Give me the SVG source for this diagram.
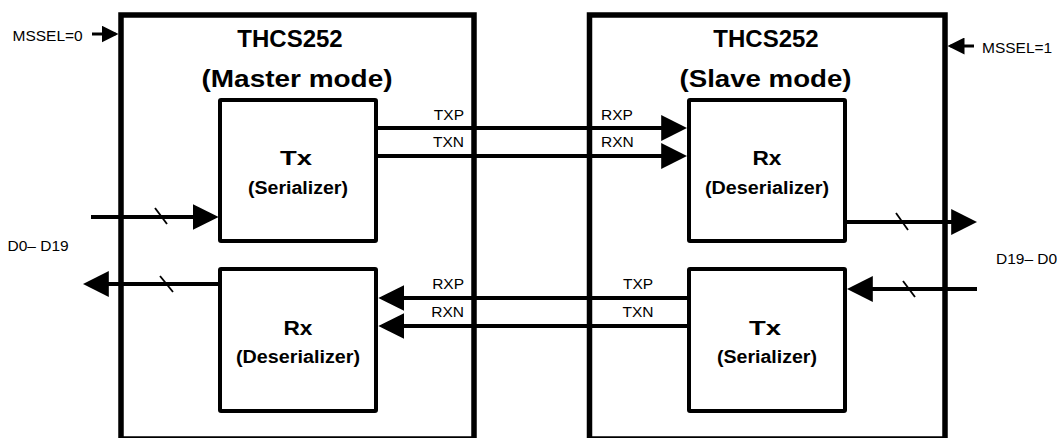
<svg xmlns="http://www.w3.org/2000/svg" width="1057" height="438" viewBox="0 0 1057 438">
<style>
.outer{fill:none;stroke:#000;stroke-width:5.5}
.inner{fill:#fff;stroke:#000;stroke-width:4}
.ln{fill:none;stroke:#000;stroke-width:4}
.tick{fill:none;stroke:#000;stroke-width:1.8}
.sl{fill:none;stroke:#000;stroke-width:3}
text{font-family:"Liberation Sans",Arial,sans-serif;fill:#000}
.t{font-size:24px;font-weight:bold;text-anchor:middle}
.b{font-size:21px;font-weight:bold;text-anchor:middle}
.s{font-size:18px;font-weight:bold;text-anchor:middle}
.l{font-size:15.5px}
</style>
<defs>
<marker id="big" markerUnits="userSpaceOnUse" markerWidth="26" markerHeight="26" viewBox="0 0 25 25" refX="21" refY="12.5" orient="auto">
<path d="M0,0 L25,12.5 L0,25 Z" fill="#000"/>
</marker>
<marker id="small" markerUnits="userSpaceOnUse" markerWidth="17" markerHeight="17" viewBox="0 0 17 17" refX="14" refY="8.5" orient="auto">
<path d="M0,0 L17,8.5 L0,17 Z" fill="#000"/>
</marker>
</defs>

<g id="master">
<rect class="outer" x="121" y="15" width="353" height="424"/>
<text class="t" x="290" y="47">THCS252</text>
<text class="t" x="297" y="87" textLength="191" lengthAdjust="spacingAndGlyphs">(Master mode)</text>
</g>
<g id="slave">
<rect class="outer" x="589.5" y="15" width="355.5" height="424"/>
<text class="t" x="766" y="47">THCS252</text>
<text class="t" x="765.5" y="87" textLength="172" lengthAdjust="spacingAndGlyphs">(Slave mode)</text>
</g>

<g id="master-tx">
<rect class="inner" x="220" y="100" width="156" height="141" rx="1"/>
<text class="b" x="296" y="165" textLength="32" lengthAdjust="spacingAndGlyphs">Tx</text>
<text class="s" x="298" y="194" textLength="100" lengthAdjust="spacingAndGlyphs">(Serializer)</text>
</g>
<g id="master-rx">
<rect class="inner" x="220" y="269" width="156" height="142" rx="1"/>
<text class="b" x="298" y="335" textLength="29" lengthAdjust="spacingAndGlyphs">Rx</text>
<text class="s" x="298" y="363" textLength="124" lengthAdjust="spacingAndGlyphs">(Deserializer)</text>
</g>
<g id="slave-rx">
<rect class="inner" x="689" y="100" width="156" height="141" rx="1"/>
<text class="b" x="767" y="165" textLength="29" lengthAdjust="spacingAndGlyphs">Rx</text>
<text class="s" x="767" y="194" textLength="124" lengthAdjust="spacingAndGlyphs">(Deserializer)</text>
</g>
<g id="slave-tx">
<rect class="inner" x="689" y="269" width="156" height="142" rx="1"/>
<text class="b" x="765" y="335" textLength="32" lengthAdjust="spacingAndGlyphs">Tx</text>
<text class="s" x="767" y="363" textLength="100" lengthAdjust="spacingAndGlyphs">(Serializer)</text>
</g>

<g id="connectors">
<line class="sl" x1="92" y1="34" x2="115.5" y2="34" marker-end="url(#small)"/>
<line class="sl" x1="974" y1="46" x2="950.5" y2="46" marker-end="url(#small)"/>

<line class="ln" x1="376" y1="128" x2="683" y2="128" marker-end="url(#big)"/>
<line class="ln" x1="376" y1="156" x2="683" y2="156" marker-end="url(#big)"/>
<line class="ln" x1="689" y1="298" x2="382.5" y2="298" marker-end="url(#big)"/>
<line class="ln" x1="689" y1="326" x2="382.5" y2="326" marker-end="url(#big)"/>

<line class="ln" x1="91" y1="217" x2="214.5" y2="217" marker-end="url(#big)"/>
<line class="ln" x1="220" y1="284" x2="87" y2="284" marker-end="url(#big)"/>
<line class="ln" x1="845" y1="222" x2="973" y2="222" marker-end="url(#big)"/>
<line class="ln" x1="977" y1="289" x2="851" y2="289" marker-end="url(#big)"/>

<line class="tick" x1="155" y1="208" x2="167" y2="224"/>
<line class="tick" x1="160" y1="276" x2="173" y2="292"/>
<line class="tick" x1="896" y1="213" x2="908" y2="230"/>
<line class="tick" x1="903" y1="281" x2="915" y2="297"/>

<text class="l" x="464" y="120" text-anchor="end">TXP</text>
<text class="l" x="464" y="147" text-anchor="end">TXN</text>
<text class="l" x="601" y="120">RXP</text>
<text class="l" x="601" y="147">RXN</text>
<text class="l" x="464" y="289" text-anchor="end">RXP</text>
<text class="l" x="464" y="317" text-anchor="end">RXN</text>
<text class="l" x="638" y="289" text-anchor="middle">TXP</text>
<text class="l" x="638" y="317" text-anchor="middle">TXN</text>
</g>

<text class="l" x="12.5" y="41">MSSEL=0</text>
<text class="l" x="982" y="53">MSSEL=1</text>
<text class="l" x="7.5" y="250.5">D0– D19</text>
<text class="l" x="996" y="264">D19– D0</text>
</svg>
